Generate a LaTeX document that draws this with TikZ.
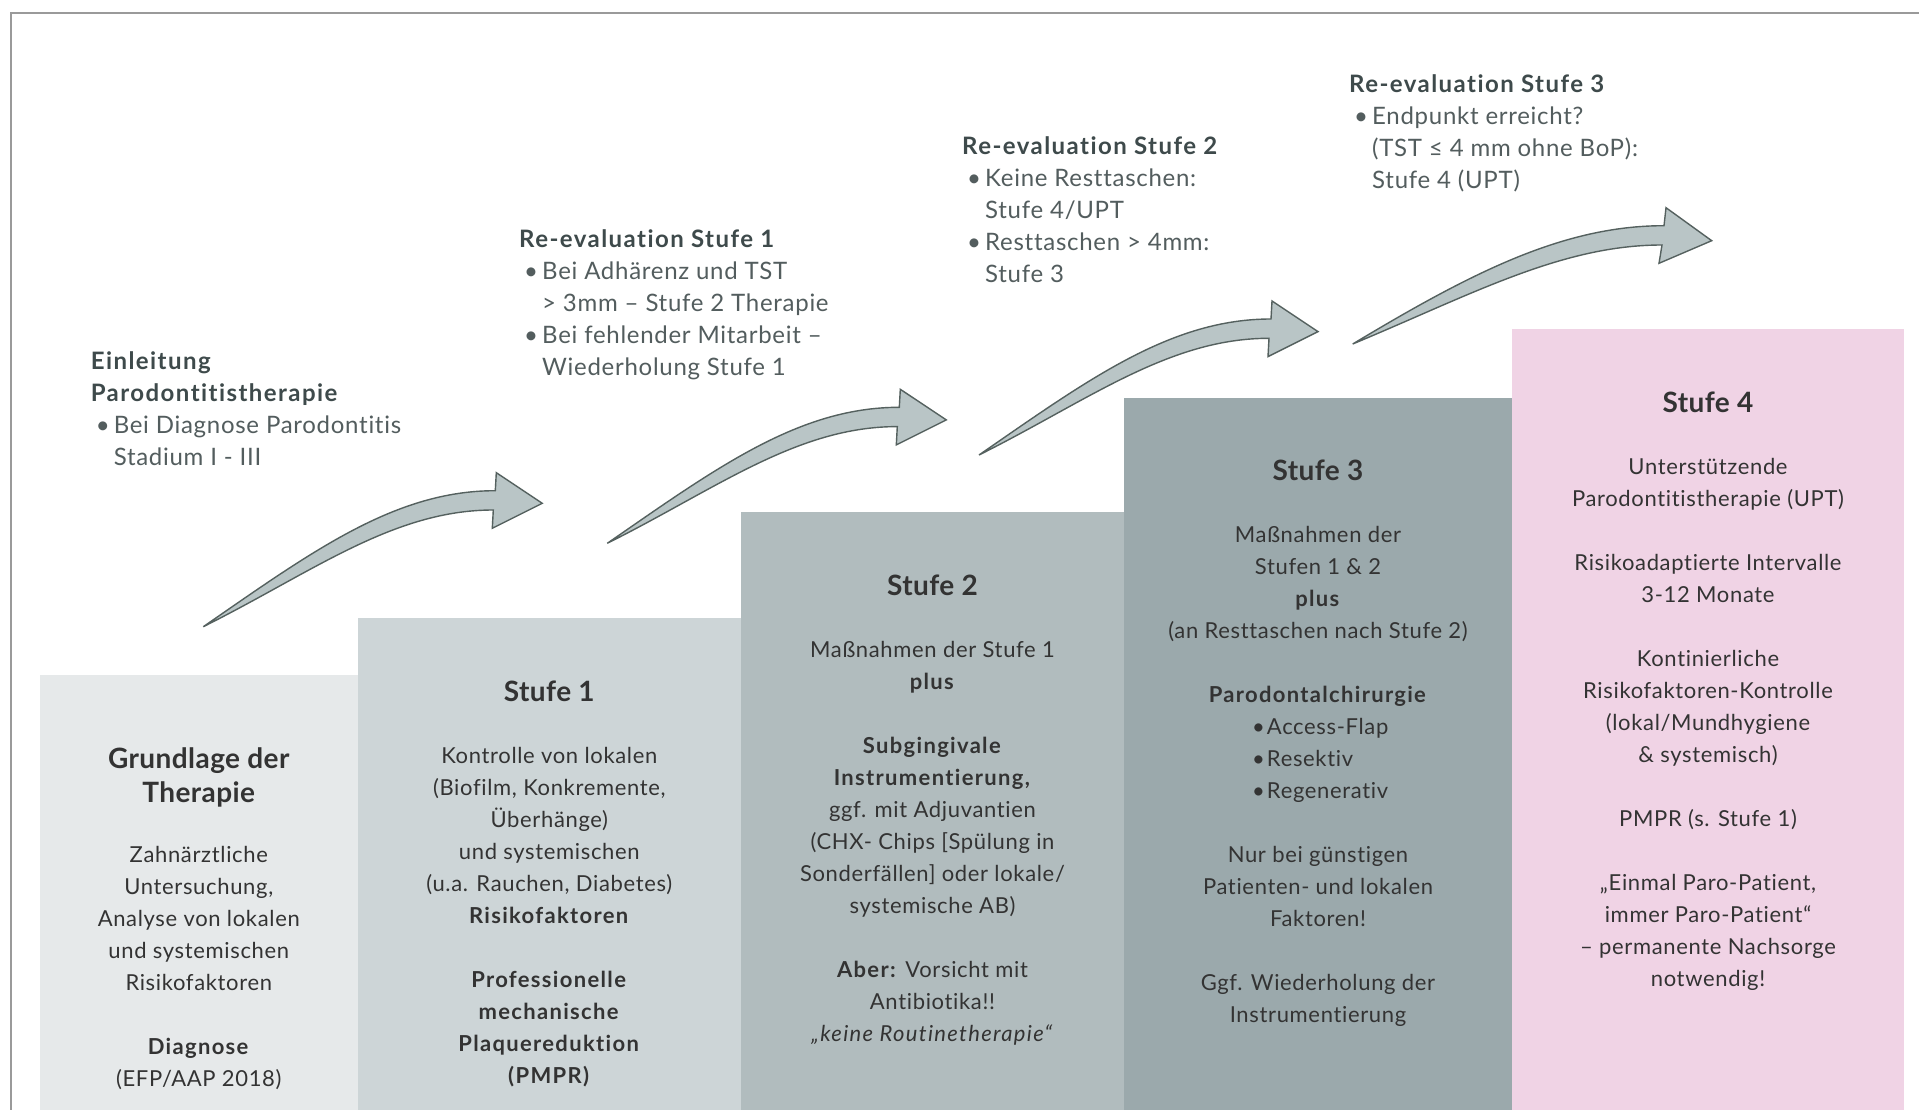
\documentclass[tikz,border=0pt]{standalone}
\usepackage{fontspec}
\setmainfont{Lato}[Ligatures={TeX,NoCommon}, LetterSpace=3, BoldFeatures={LetterSpace=6}, ItalicFeatures={LetterSpace=6}]
\newfontfamily\titlefont{Lato}[Ligatures={TeX,NoCommon}, LetterSpace=1.5]
\definecolor{bxA}{HTML}{E6E9EA}
\definecolor{bxB}{HTML}{CDD5D7}
\definecolor{bxC}{HTML}{B1BCBE}
\definecolor{bxD}{HTML}{9BA9AC}
\definecolor{bxE}{HTML}{F0D3E5}
\definecolor{arrfill}{HTML}{B9C5C6}
\definecolor{arrline}{HTML}{55615F}
\definecolor{frameC}{HTML}{9A9A9A}
\definecolor{annoHead}{HTML}{3E4A4B}
\definecolor{annoBody}{HTML}{535D5E}
\definecolor{boxText}{HTML}{333333}
\newcommand\bul{\hspace*{5pt}\makebox[18pt][l]{•}}
\newcommand\ind{\hspace*{23pt}}
\newcommand\subbul[1]{\makebox[132pt][l]{\makebox[15pt][l]{•}#1}}
\tikzset{
  stepbox/.style={inner sep=0pt, outer sep=0pt, draw=none},
  boxtitle/.style={inner sep=0pt, text=boxText, font=\titlefont\fontsize{28}{34}\selectfont\bfseries, align=center},
  boxbody/.style={inner sep=0pt, text=boxText, font=\fontsize{22}{32}\selectfont, align=center, anchor=north},
  anno/.style={inner sep=0pt, text=annoBody, font=\fontsize{24}{32}\selectfont, align=left, anchor=north west},
  blockarrow/.style={fill=arrfill, draw=arrline, line width=1.4pt, line join=miter},
  frameline/.style={draw=frameC, line width=2pt}
}
\begin{document}
\begin{tikzpicture}[x=1pt,y=-1pt]
\useasboundingbox (0,0) rectangle (1919,1110);
\fill[white] (0,0) rectangle (1919,1110);
\draw[frameline] (1919,13.5) -- (10.5,13.5) -- (10.5,1110);

% steps
\node[stepbox, fill=bxA, minimum width=317.7pt, minimum height=435.5pt, anchor=north west] (b0) at (40,674.5) {};
\node[stepbox, fill=bxB, minimum width=383.3pt, minimum height=492.5pt, anchor=north west] (b1) at (357.7,617.5) {};
\node[stepbox, fill=bxC, minimum width=383pt, minimum height=598.5pt, anchor=north west] (b2) at (741,511.5) {};
\node[stepbox, fill=bxD, minimum width=388pt, minimum height=712.2pt, anchor=north west] (b3) at (1124,397.8) {};
\node[stepbox, fill=bxE, minimum width=392pt, minimum height=781.4pt, anchor=north west] (b4) at (1512,328.6) {};

% arrows
\begin{scope}[shift={(203.3,626.7)}]
\path[blockarrow] (0,0) .. controls (110,-76) and (192,-136) .. (292,-136) -- (293,-154) -- (339,-123.4) -- (289,-98.4) -- (290,-116.7) .. controls (190,-116.7) and (110,-55) .. (0,0) -- cycle;
\end{scope}
\begin{scope}[shift={(607.3,543.3)}]
\path[blockarrow] (0,0) .. controls (110,-76) and (192,-136) .. (292,-136) -- (293,-154) -- (339,-123.4) -- (289,-98.4) -- (290,-116.7) .. controls (190,-116.7) and (110,-55) .. (0,0) -- cycle;
\end{scope}
\begin{scope}[shift={(979,455)}]
\path[blockarrow] (0,0) .. controls (110,-76) and (192,-136) .. (292,-136) -- (293,-154) -- (339,-123.4) -- (289,-98.4) -- (290,-116.7) .. controls (190,-116.7) and (110,-55) .. (0,0) -- cycle;
\end{scope}
\begin{scope}[shift={(1352.7,344)}]
\path[blockarrow] (0,0) .. controls (120,-72) and (211,-118.3) .. (311.3,-118.3) -- (313.3,-136.3) -- (359,-103.3) -- (306.3,-80.7) -- (309.3,-99) .. controls (209,-99) and (120,-50) .. (0,0) -- cycle;
\end{scope}

% annotations
\node[anno] (a0) at (90.6,351) {\rule{0pt}{18pt}\textcolor{annoHead}{\bfseries Einleitung}\\
\textcolor{annoHead}{\bfseries Parodontitistherapie}\\
\bul Bei Diagnose Parodontitis\\
\ind Stadium I - III};
\node[anno] (a1) at (519,229) {\rule{0pt}{18pt}\textcolor{annoHead}{\bfseries Re-evaluation Stufe 1}\\
\bul Bei Adhärenz und TST\\
\ind > 3mm – Stufe 2 Therapie\\
\bul Bei fehlender Mitarbeit –\\
\ind Wiederholung Stufe 1};
\node[anno] (a2) at (962,136) {\rule{0pt}{18pt}\textcolor{annoHead}{\bfseries Re-evaluation Stufe 2}\\
\bul Keine Resttaschen:\\
\ind Stufe 4/UPT\\
\bul Resttaschen > 4mm:\\
\ind Stufe 3};
\node[anno] (a3) at (1349,74.7) {\rule{0pt}{18pt}\textcolor{annoHead}{\bfseries Re-evaluation Stufe 3}\\
\bul Endpunkt erreicht?\\
\ind (TST ≤ 4 mm ohne BoP):\\
\ind Stufe 4 (UPT)};

% box 0
\node[boxtitle, anchor=north] (t0) at (198.8,746.5) {\rule{0pt}{22pt}Grundlage der\\Therapie};
\node[boxbody] (x0) at (198.8,844.5) {\rule{0pt}{18pt}Zahnärztliche\\Untersuchung,\\Analyse von lokalen\\und systemischen\\Risikofaktoren\\[32pt]\textbf{Diagnose}\\(EFP/AAP 2018)};

% box 1
\node[boxtitle, anchor=base] (t1) at (549.3,701) {Stufe 1};
\node[boxbody] (x1) at (549.3,745) {\rule{0pt}{18pt}Kontrolle von lokalen\\(Biofilm, Konkremente,\\Überhänge)\\und systemischen\\(u.a. Rauchen, Diabetes)\\\textbf{Risikofaktoren}\\[32pt]\textbf{Professionelle}\\\textbf{mechanische}\\\textbf{Plaquereduktion}\\\textbf{(PMPR)}};

% box 2
\node[boxtitle, anchor=base] (t2) at (932.5,595.5) {Stufe 2};
\node[boxbody] (x2) at (932.5,639) {\rule{0pt}{18pt}Maßnahmen der Stufe 1\\\textbf{plus}\\[32pt]\textbf{Subgingivale}\\\textbf{Instrumentierung,}\\ggf. mit Adjuvantien\\(CHX- Chips [Spülung in\\Sonderfällen] oder lokale/\\systemische AB)\\[32pt]\textbf{Aber:} Vorsicht mit\\Antibiotika!!\\\textit{„keine Routinetherapie“}};

% box 3
\node[boxtitle, anchor=base] (t3) at (1318,480.5) {Stufe 3};
\node[boxbody] (x3) at (1318,524) {\rule{0pt}{18pt}Maßnahmen der\\Stufen 1 \& 2\\\textbf{plus}\\(an Resttaschen nach Stufe 2)\\[32pt]\textbf{Parodontalchirurgie}\\\subbul{Access-Flap}\\\subbul{Resektiv}\\\subbul{Regenerativ}\\[32pt]Nur bei günstigen\\Patienten- und lokalen\\Faktoren!\\[32pt]Ggf. Wiederholung der\\Instrumentierung};

% box 4
\node[boxtitle, anchor=base] (t4) at (1708,412.2) {Stufe 4};
\node[boxbody] (x4) at (1708,456.5) {\rule{0pt}{18pt}Unterstützende\\Parodontitistherapie (UPT)\\[32pt]Risikoadaptierte Intervalle\\3-12 Monate\\[32pt]Kontinierliche\\Risikofaktoren-Kontrolle\\(lokal/Mundhygiene\\\& systemisch)\\[32pt]PMPR (s. Stufe 1)\\[32pt]„Einmal Paro-Patient,\\immer Paro-Patient“\\– permanente Nachsorge\\notwendig!};
\end{tikzpicture}
\end{document}
